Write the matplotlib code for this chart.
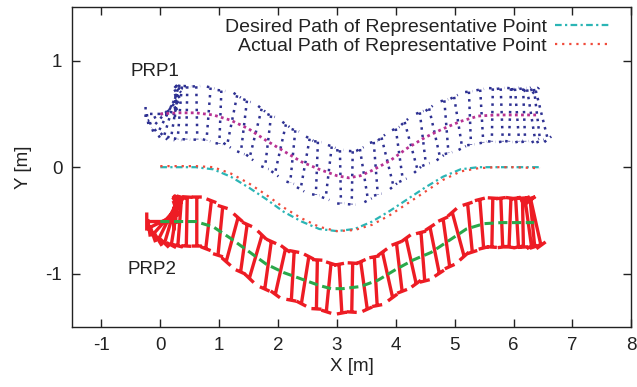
import numpy as np
import matplotlib
matplotlib.use("Agg")
import matplotlib.pyplot as plt

plt.rcParams['font.family'] = ['Liberation Sans', 'DejaVu Sans']
plt.rcParams['font.size'] = 13.5
plt.rcParams['axes.unicode_minus'] = False

# ---------------- data ----------------
# desired path of representative point
des_x = [0.0, 0.3, 0.6, 0.9, 1.2, 1.5, 1.8, 2.1, 2.4, 2.7, 3.0, 3.3, 3.6, 3.9, 4.2, 4.5, 4.8, 5.1, 5.4, 5.7, 6.0, 6.45]
des_y = [0.0, 0.0, 0.0, -0.02, -0.09, -0.19, -0.30, -0.42, -0.51, -0.58, -0.60, -0.58, -0.51, -0.41, -0.30, -0.19, -0.09, -0.02, 0.0, 0.0, 0.0, 0.0]
# actual path of representative point
act_x = [0.0, 0.3, 0.6, 0.9, 1.2, 1.5, 1.8, 2.1, 2.4, 2.7, 3.0, 3.3, 3.6, 3.9, 4.2, 4.5, 4.8, 5.1, 5.4, 5.7, 6.0, 6.45]
act_y = [0.01, 0.01, 0.01, 0.0, -0.06, -0.15, -0.26, -0.38, -0.48, -0.56, -0.60, -0.59, -0.54, -0.45, -0.34, -0.23, -0.12, -0.04, -0.01, 0.0, 0.0, -0.01]
# path of PRP1
p1_x = [0.0, 0.3, 0.6, 0.9, 1.2, 1.5, 1.8, 2.1, 2.4, 2.7, 3.0, 3.2, 3.4, 3.6, 3.9, 4.2, 4.5, 4.8, 5.1, 5.4, 5.7, 6.0, 6.4]
p1_y = [0.50, 0.51, 0.51, 0.49, 0.44, 0.36, 0.25, 0.15, 0.05, -0.02, -0.08, -0.10, -0.08, -0.03, 0.06, 0.18, 0.28, 0.36, 0.43, 0.48, 0.49, 0.49, 0.49]
# path of PRP2
p2_x = [0.0, 0.3, 0.6, 0.9, 1.2, 1.5, 1.8, 2.1, 2.4, 2.7, 2.9, 3.1, 3.4, 3.7, 4.0, 4.3, 4.6, 4.9, 5.2, 5.5, 5.8, 6.1, 6.35]
p2_y = [-0.51, -0.51, -0.51, -0.56, -0.67, -0.79, -0.91, -0.99, -1.05, -1.11, -1.14, -1.14, -1.12, -1.06, -0.96, -0.87, -0.80, -0.69, -0.58, -0.53, -0.52, -0.52, -0.52]

# robot snapshots (position and axle angle in degrees)
r1_x = [0.00, 0.03, 0.07, 0.12, 0.18, 0.25, 0.33, 0.45, 0.62, 0.82, 1.02, 1.22, 1.42, 1.62, 1.83, 2.04, 2.25, 2.46, 2.66, 2.86, 3.06, 3.26, 3.46, 3.66, 3.86, 4.06, 4.26, 4.46, 4.66, 4.86, 5.06, 5.26, 5.46, 5.64, 5.80, 5.94, 6.06, 6.18, 6.30, 6.40, 6.48]
r1_y = [0.50, 0.50, 0.50, 0.50, 0.51, 0.51, 0.51, 0.51, 0.51, 0.50, 0.47, 0.44, 0.38, 0.32, 0.24, 0.17, 0.10, 0.03, -0.01, -0.05, -0.09, -0.10, -0.07, -0.01, 0.05, 0.12, 0.20, 0.27, 0.32, 0.38, 0.42, 0.46, 0.48, 0.49, 0.49, 0.49, 0.49, 0.49, 0.49, 0.49, 0.49]
r1_a = [0, 15, 32, 48, 62, 74, 82, 88, 92, 82, 86, 70, 78, 66, 78, 68, 80, 72, 86, 78, 92, 88, 106, 98, 114, 104, 116, 102, 112, 98, 106, 94, 96, 88, 94, 86, 98, 94, 106, 102, 114]

r2_x = [0.00, 0.03, 0.07, 0.12, 0.18, 0.25, 0.33, 0.45, 0.62, 0.82, 1.02, 1.22, 1.42, 1.62, 1.83, 2.04, 2.25, 2.46, 2.66, 2.86, 3.06, 3.26, 3.46, 3.66, 3.86, 4.06, 4.26, 4.46, 4.66, 4.86, 5.06, 5.26, 5.46, 5.64, 5.80, 5.94, 6.06, 6.16, 6.25, 6.32, 6.38]
r2_y = [-0.51, -0.51, -0.51, -0.51, -0.51, -0.51, -0.51, -0.51, -0.51, -0.54, -0.60, -0.68, -0.76, -0.84, -0.92, -0.98, -1.02, -1.06, -1.10, -1.13, -1.14, -1.13, -1.11, -1.07, -1.01, -0.94, -0.88, -0.84, -0.78, -0.71, -0.63, -0.57, -0.53, -0.52, -0.52, -0.52, -0.52, -0.52, -0.52, -0.52, -0.52]
r2_a = [0, 15, 32, 48, 62, 74, 82, 88, 90, 78, 80, 64, 76, 62, 76, 68, 84, 74, 88, 80, 96, 88, 104, 96, 112, 102, 112, 98, 110, 104, 116, 100, 98, 88, 94, 86, 96, 92, 104, 100, 112]

x_ticks = [-1, 0, 1, 2, 3, 4, 5, 6, 7, 8]
y_ticks = [-1, 0, 1]
legend_labels = ["Desired Path of Representative Point", "Actual Path of Representative Point"]

# ---------------- style ----------------
C_BLUE = '#2e3192'
C_RED = '#ed1c24'
C_MAG = '#b83293'
C_CYAN = '#2bb5b5'
C_ACT = '#f04a3a'
C_GREEN = '#2aa84a'
TXT = '#222222'


def robot_segments(xs, ys, angs, bar_len, wheel_len):
    px, py = [], []
    for x, y, a in zip(xs, ys, angs):
        t = np.radians(a)
        ux, uy = np.cos(t), np.sin(t)
        vx, vy = np.sin(t), -np.cos(t)
        e1 = (x + bar_len / 2 * ux, y + bar_len / 2 * uy)
        e2 = (x - bar_len / 2 * ux, y - bar_len / 2 * uy)
        px += [e1[0], e2[0], np.nan]
        py += [e1[1], e2[1], np.nan]
        for e in (e1, e2):
            px += [e[0] - wheel_len / 2 * vx, e[0] + wheel_len / 2 * vx, np.nan]
            py += [e[1] - wheel_len / 2 * vy, e[1] + wheel_len / 2 * vy, np.nan]
    return px, py


fig = plt.figure(figsize=(6.37, 3.87), dpi=100)
ax = fig.add_axes([0.113, 0.155, 0.878, 0.826])

# PRP1 robots (dotted)
bx, by = robot_segments(r1_x, r1_y, r1_a, 0.5, 0.13)
ax.plot(bx, by, color=C_BLUE, lw=1.8, linestyle=(0, (1, 2.0)), dash_capstyle='butt', zorder=2)
# PRP2 robots (solid)
rx, ry = robot_segments(r2_x, r2_y, r2_a, 0.46, 0.17)
ax.plot(rx, ry, color=C_RED, lw=2.4, solid_capstyle='butt', zorder=2)

ax.plot(p1_x, p1_y, color=C_MAG, lw=2.0, linestyle=(0, (1, 1.2)), zorder=3)
ax.plot(p2_x, p2_y, color=C_GREEN, lw=2.2, linestyle=(0, (3, 1.5)), zorder=3)

l1, = ax.plot(des_x, des_y, color=C_CYAN, lw=1.6, linestyle=(0, (3, 1.5, 1, 1.5)), zorder=4)
l2, = ax.plot(act_x, act_y, color=C_ACT, lw=1.6, linestyle=(0, (1, 2.2)), zorder=4)

ax.text(-0.5, 0.9, "PRP1", ha='left', va='center', color=TXT, fontsize=13.5)
ax.text(-0.56, -0.96, "PRP2", ha='left', va='center', color=TXT, fontsize=13.5)

ax.set_xlim(-1.5, 8)
ax.set_ylim(-1.5, 1.5)
ax.set_xticks(x_ticks)
ax.set_yticks(y_ticks)
ax.tick_params(direction='in', length=6, width=1, top=True, right=True, labelsize=13.5, colors=TXT, pad=7)
for s in ax.spines.values():
    s.set_linewidth(1.0)
    s.set_color(TXT)
ax.set_xlabel("X [m]", fontsize=13.5, color=TXT, labelpad=3)
ax.set_ylabel("Y [m]", fontsize=13.5, color=TXT, labelpad=10)

leg = ax.legend([l1, l2], legend_labels, loc='upper right', bbox_to_anchor=(0.978, 0.99),
                frameon=False, markerfirst=False, handlelength=2.9, handletextpad=0.4,
                labelspacing=0.05, borderaxespad=0.0, fontsize=14)
for t in leg.get_texts():
    t.set_color(TXT)

fig.savefig("out.png", dpi=100)
